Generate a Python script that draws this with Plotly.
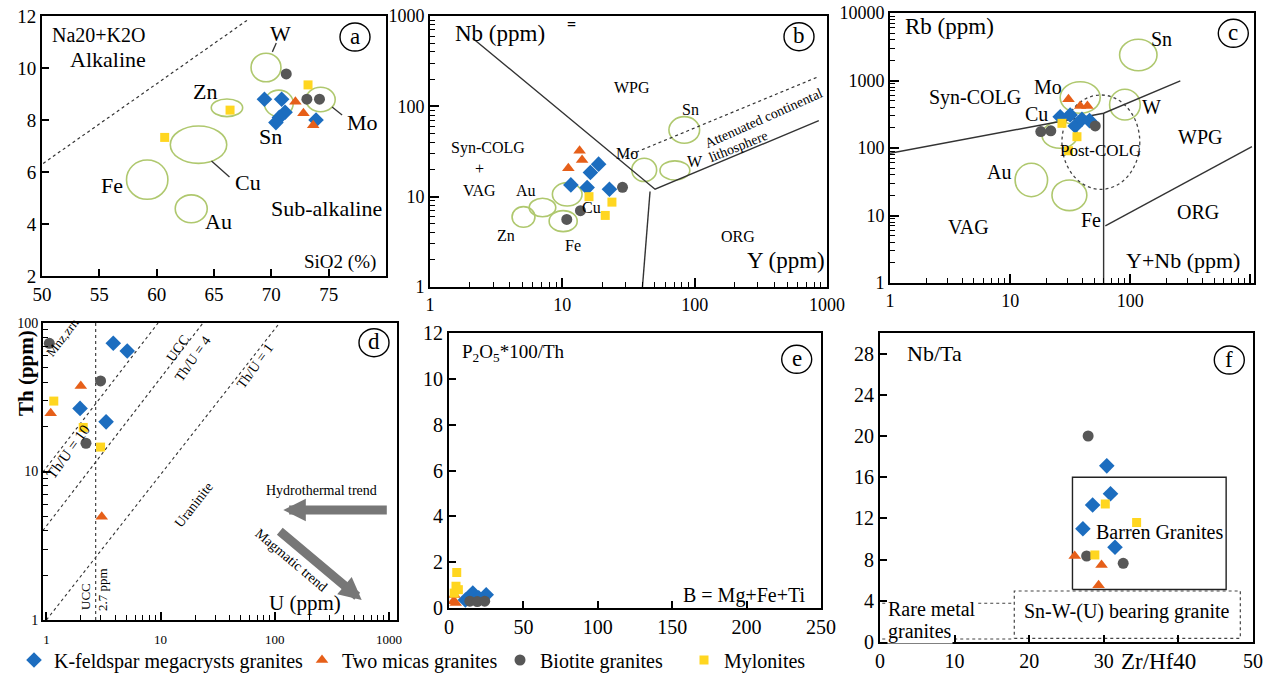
import plotly.graph_objects as go

W, H = 1265, 673
SERIF = "Liberation Serif, Times New Roman, serif"

C_KFS = "#1C6DBF"
C_MICA = "#E65F19"
C_BIO = "#575757"
C_MYL = "#FFD620"
C_ELL = "#AFC86E"
C_LINE = "#333333"

# ====================== DATA ======================
series_names = ["K-feldspar megacrysts granites", "Two micas granites",
                "Biotite granites", "Mylonites"]

# (a) SiO2 (%) vs Na2O+K2O
a_kfs_x = [69.4, 70.9, 71.2, 70.7, 70.4, 73.9]
a_kfs_y = [8.8, 8.8, 8.3, 8.1, 7.9, 8.0]
a_mica_x = [72.1, 72.8, 73.65]
a_mica_y = [8.7, 8.26, 7.8]
a_bio_x = [71.3, 73.1, 74.2]
a_bio_y = [9.77, 8.8, 8.8]
a_myl_x = [73.2, 66.4, 60.7]
a_myl_y = [9.35, 8.38, 7.33]
a_ell_names = ["W", "Sn", "Mo", "Zn", "Cu", "Fe", "Au"]
a_ell_x0 = [68.23, 69.39, 73.02, 64.76, 61.19, 57.37, 61.62]
a_ell_x1 = [70.84, 71.91, 75.57, 67.50, 66.11, 60.98, 64.41]
a_ell_y0 = [9.47, 8.13, 8.32, 8.13, 6.33, 4.95, 4.05]
a_ell_y1 = [10.57, 9.15, 9.26, 8.81, 7.77, 6.46, 5.12]
a_div_x = [50.1, 68.0]
a_div_y = [6.33, 11.87]
a_leader_x0 = [70.43, 64.78, 75.30]
a_leader_y0 = [10.96, 6.42, 8.50]
a_leader_x1 = [70.09, 66.35, 76.17]
a_leader_y1 = [10.62, 5.81, 8.19]

# (b) Y (ppm) vs Nb (ppm)
b_kfs_x = [18.8, 16.3, 11.6, 15.4, 22.7]
b_kfs_y = [22.9, 18.5, 13.5, 12.6, 12.1]
b_mica_x = [13.5, 14.1, 11.1]
b_mica_y = [32.3, 25.5, 20.6]
b_bio_x = [28.5, 13.7, 10.8]
b_bio_y = [12.7, 7.0, 5.6]
b_myl_x = [15.9, 23.7, 21.1]
b_myl_y = [10.0, 8.7, 6.2]
b_ell_names = ["Zn", "Au", "Cu", "Fe", "Mo", "W", "Sn"]
b_ell_x0 = [4.17, 5.62, 8.41, 7.95, 33.5, 54.7, 63.9]
b_ell_x1 = [6.21, 8.92, 14.1, 12.95, 51.6, 91.9, 109.0]
b_ell_y0 = [4.58, 6.0, 7.89, 4.1, 14.7, 15.3, 39.0]
b_ell_y1 = [7.75, 9.6, 14.3, 7.0, 26.6, 24.9, 76.9]
b_bound1_x = [2.1, 50.2, 867]
b_bound1_y = [568, 12.1, 69.5]
b_bound2_x = [46, 40.3]
b_bound2_y = [11.4, 1.0]
b_dash_x = [29.9, 842]
b_dash_y = [27.7, 210]

# (c) Y+Nb (ppm) vs Rb (ppm)
c_kfs_x = [26.1, 31.6, 34.8, 39.6, 45.8]
c_kfs_y = [291, 308, 212, 266, 254]
c_mica_x = [30.6, 38.3, 44.0]
c_mica_y = [526, 419, 419]
c_bio_x = [18.0, 21.8, 51.1]
c_bio_y = [175, 180, 212]
c_myl_x = [27.0, 36.0, 30.6]
c_myl_y = [232, 147, 91]
c_ell_names = ["Sn", "Mo", "W", "Cu", "Au", "Fe"]
c_ell_x0 = [81.5, 26.1, 67.3, 18.4, 11.0, 22.3]
c_ell_x1 = [167, 56.2, 121, 36.4, 20.5, 43.5]
c_ell_y0 = [1397, 327, 260, 99, 19.0, 11.8]
c_ell_y1 = [4074, 960, 741, 245, 59.3, 33.6]
c_post_x = [27.0, 120.0]
c_post_y = [24.4, 610.0]
c_bound1_x = [1.0, 60, 261]
c_bound1_y = [83.4, 327, 984]
c_bound2_x = [60, 60]
c_bound2_y = [327, 1.0]
c_bound3_x = [62, 1030]
c_bound3_y = [7.0, 104.5]

# (d) U (ppm) vs Th (ppm)
d_kfs_x = [3.85, 5.1, 1.97, 3.33]
d_kfs_y = [73, 64.8, 26.6, 21.6]
d_mica_x = [2.0, 1.09, 3.05]
d_mica_y = [37.7, 24.7, 4.96]
d_bio_x = [1.06, 2.98, 2.22]
d_bio_y = [73, 40.7, 15.5]
d_myl_x = [1.16, 2.1, 2.98]
d_myl_y = [29.8, 19.8, 14.6]
d_ucc_x = [2.7, 2.7]
d_ucc_y = [1, 100]
d_thu10_x = [0.93, 9.5]
d_thu10_y = [9.9, 100]
d_thu4_x = [0.93, 23.5]
d_thu4_y = [4.0, 100]
d_thu1_x = [1.0, 110]
d_thu1_y = [1.0, 100]

# (e) B = Mg+Fe+Ti vs P2O5*100/Th
e_kfs_x = [16, 25, 11, 20]
e_kfs_y = [0.65, 0.58, 0.35, 0.45]
e_mica_x = [3.6, 3.0, 4.5]
e_mica_y = [0.57, 0.3, 0.22]
e_bio_x = [14, 19, 24]
e_bio_y = [0.3, 0.28, 0.3]
e_myl_x = [5.2, 4.7, 6.3, 3.5]
e_myl_y = [1.55, 0.95, 0.8, 0.65]

# (f) Zr/Hf vs Nb/Ta
f_kfs_x = [30.4, 30.9, 28.5, 27.2, 31.5]
f_kfs_y = [17.1, 14.4, 13.3, 11.0, 9.2]
f_mica_x = [26.1, 29.7, 29.3]
f_mica_y = [8.35, 7.48, 5.5]
f_bio_x = [27.9, 27.7, 32.6]
f_bio_y = [20.0, 8.35, 7.64]
f_myl_x = [30.2, 34.4, 28.8]
f_myl_y = [13.4, 11.6, 8.45]
f_barren_x = [25.8, 46.4, 46.4, 25.8, 25.8]
f_barren_y = [5.1, 5.1, 16.0, 16.0, 5.1]
f_snw_x = [18.0, 48.3, 48.3, 18.0, 18.0]
f_snw_y = [0.36, 0.36, 4.95, 4.95, 0.36]
f_rare_top_x = [0.3, 18.0]
f_rare_top_y = [3.76, 3.76]
f_rare_bot_x = [0.3, 18.0]
f_rare_bot_y = [0.29, 0.29]

# ====================== FIGURE ======================
fig = go.Figure()

STY = [
    dict(symbol="diamond", color=C_KFS, size=12),
    dict(symbol="triangle-up", color=C_MICA, size=11),
    dict(symbol="circle", color=C_BIO, size=11),
    dict(symbol="square", color=C_MYL, size=9),
]
LEG = ["legend", "legend2", "legend3", "legend4"]


def add_groups(xs, ys, xa, ya, legend=False):
    for i, (x, y) in enumerate(zip(xs, ys)):
        fig.add_trace(go.Scatter(
            x=x, y=y, mode="markers", xaxis=xa, yaxis=ya,
            name=series_names[i], showlegend=legend, legend=LEG[i],
            marker=dict(symbol=STY[i]["symbol"], color=STY[i]["color"],
                        size=STY[i]["size"], line=dict(width=0)),
            hoverinfo="skip"))


def add_line(x, y, xa, ya, dash=None, width=1.4, color=C_LINE):
    fig.add_trace(go.Scatter(
        x=x, y=y, mode="lines", xaxis=xa, yaxis=ya, showlegend=False,
        line=dict(color=color, width=width, dash=dash), hoverinfo="skip"))


DASH = "3px,3px"

# lines
add_line(a_div_x, a_div_y, "x", "y", dash=DASH, width=1.2)
for x0, y0, x1, y1 in zip(a_leader_x0, a_leader_y0, a_leader_x1, a_leader_y1):
    add_line([x0, x1], [y0, y1], "x", "y", width=1.3)
add_line(b_bound1_x, b_bound1_y, "x2", "y2")
add_line(b_bound2_x, b_bound2_y, "x2", "y2")
add_line(b_dash_x, b_dash_y, "x2", "y2", dash=DASH, width=1.2)
add_line(c_bound1_x, c_bound1_y, "x3", "y3")
add_line(c_bound2_x, c_bound2_y, "x3", "y3")
add_line(c_bound3_x, c_bound3_y, "x3", "y3")
for lx, ly in [(d_ucc_x, d_ucc_y), (d_thu10_x, d_thu10_y),
               (d_thu4_x, d_thu4_y), (d_thu1_x, d_thu1_y)]:
    add_line(lx, ly, "x4", "y4", dash=DASH, width=1.1)
add_line(f_barren_x, f_barren_y, "x6", "y6", width=1.4, color="#222")
add_line(f_snw_x, f_snw_y, "x6", "y6", dash=DASH, width=1.2, color="#444")
add_line(f_rare_top_x, f_rare_top_y, "x6", "y6", dash=DASH, width=1.2, color="#444")
add_line(f_rare_bot_x, f_rare_bot_y, "x6", "y6", dash=DASH, width=1.2, color="#444")

# markers
add_groups([a_kfs_x, a_mica_x, a_bio_x, a_myl_x], [a_kfs_y, a_mica_y, a_bio_y, a_myl_y], "x", "y", legend=True)
add_groups([b_kfs_x, b_mica_x, b_bio_x, b_myl_x], [b_kfs_y, b_mica_y, b_bio_y, b_myl_y], "x2", "y2")
add_groups([c_kfs_x, c_mica_x, c_bio_x, c_myl_x], [c_kfs_y, c_mica_y, c_bio_y, c_myl_y], "x3", "y3")
add_groups([d_kfs_x, d_mica_x, d_bio_x, d_myl_x], [d_kfs_y, d_mica_y, d_bio_y, d_myl_y], "x4", "y4")
add_groups([e_kfs_x, e_mica_x, e_bio_x, e_myl_x], [e_kfs_y, e_mica_y, e_bio_y, e_myl_y], "x5", "y5")
add_groups([f_kfs_x, f_mica_x, f_bio_x, f_myl_x], [f_kfs_y, f_mica_y, f_bio_y, f_myl_y], "x6", "y6")

# ellipses (deposit fields)
shapes = []
for xa, ya, X0, X1, Y0, Y1 in [
        ("x", "y", a_ell_x0, a_ell_x1, a_ell_y0, a_ell_y1),
        ("x2", "y2", b_ell_x0, b_ell_x1, b_ell_y0, b_ell_y1),
        ("x3", "y3", c_ell_x0, c_ell_x1, c_ell_y0, c_ell_y1)]:
    for x0, x1, y0, y1 in zip(X0, X1, Y0, Y1):
        shapes.append(dict(type="circle", xref=xa, yref=ya, x0=x0, x1=x1, y0=y0, y1=y1,
                           line=dict(color=C_ELL, width=1.6), layer="below"))
shapes.append(dict(type="circle", xref="x3", yref="y3", x0=c_post_x[0], x1=c_post_x[1],
                   y0=c_post_y[0], y1=c_post_y[1],
                   line=dict(color="#444", width=1.3, dash="3px,3px"), layer="below"))


def px2p(px, py):
    return px / W, 1 - py / H


annotations = []
for (cx, cy, lab) in [(355, 37, "a"), (799, 36.7, "b"), (1233.3, 33.3, "c"),
                      (374, 342.7, "d"), (796.7, 359.3, "e"), (1229.3, 360, "f")]:
    x0, y0 = px2p(cx - 15, cy + 14)
    x1, y1 = px2p(cx + 15, cy - 14)
    shapes.append(dict(type="circle", xref="paper", yref="paper", x0=x0, x1=x1, y0=y0, y1=y1,
                       line=dict(color="black", width=1.4)))
    annotations.append(dict(x=cx / W, y=1 - (cy - 1) / H, xref="paper", yref="paper", text=lab,
                            showarrow=False, font=dict(family=SERIF, size=23, color="black"),
                            xanchor="center", yanchor="middle"))


def T(px, py, text, size, angle=0, xanchor="center", bold=False, bg=None, color="black"):
    t = f"<b>{text}</b>" if bold else text
    d = dict(x=px / W, y=1 - py / H, xref="paper", yref="paper", text=t, showarrow=False,
             font=dict(family=SERIF, size=size, color=color), xanchor=xanchor,
             yanchor="middle", textangle=angle)
    if bg:
        d.update(bgcolor=bg, borderpad=0)
    annotations.append(d)


# (a)
T(50, 35, "Na20+K2O", 20, xanchor="left")
T(108, 59, "Alkaline", 22)
T(280, 33, "W", 22)
T(205, 92, "Zn", 22)
T(270, 137, "Sn", 22)
T(362, 122, "Mo", 22)
T(248, 183, "Cu", 22)
T(112, 185, "Fe", 22)
T(218, 222, "Au", 22)
T(326, 208, "Sub-alkaline", 22)
T(340, 262, "SiO2 (%)", 19)
# (b)
T(453, 33, "Nb (ppm)", 23, xanchor="left")
T(571.7, 25, "=", 16, bold=True)
T(631.7, 88, "WPG", 16)
T(690, 110, "Sn", 16)
T(763, 118, "Attenuated continental", 14, angle=-24)
T(738, 146, "lithosphere", 14, angle=-22)
T(626.7, 153.3, "Mo", 16)
T(695, 161.7, "W", 16)
T(488.3, 148.3, "Syn-COLG", 16)
T(479.3, 168.3, "+", 16)
T(480, 190.7, "VAG", 16)
T(526, 190.7, "Au", 16)
T(506, 235, "Zn", 16)
T(591.7, 207.3, "Cu", 16)
T(573.3, 245, "Fe", 16)
T(738.3, 236.7, "ORG", 16)
T(785.8, 260, "Y (ppm)", 23)
# (c)
T(903, 26.7, "Rb (ppm)", 23, xanchor="left")
T(1161.7, 39.3, "Sn", 20)
T(1048.3, 87.3, "Mo", 20)
T(975, 97.3, "Syn-COLG", 20)
T(1151.7, 106.7, "W", 20)
T(1036.7, 114, "Cu", 20)
T(1200, 137.3, "WPG", 20)
T(1100, 150.7, "Post-COLG", 17)
T(999.3, 171.7, "Au", 20)
T(1090.7, 220, "Fe", 20)
T(1198.3, 211.7, "ORG", 20)
T(968.3, 226.7, "VAG", 20)
T(1183.3, 260, "Y+Nb (ppm)", 22)
# (d)
T(26, 373, "Th (ppm)", 21, angle=-90, bold=True)
T(62, 337, "Mnz,zrn", 13, angle=-52)
T(68, 452, "Th/U = 10", 15, angle=-54)
T(185, 353, "UCC<br>Th/U = 4", 14, angle=-55)
T(255, 367, "Th/U = 1", 14, angle=-54)
T(193, 505, "Uraninite", 14, angle=-52)
T(85, 597, "UCC", 13, angle=-90)
T(102, 590, "2.7 ppm", 13, angle=-90)
T(321.7, 490.7, "Hydrothermal trend", 14)
T(291.7, 560, "Magmatic trend", 14, angle=40)
T(305, 603, "U (ppm)", 21)
# (e)
T(460, 353, "P<sub>2</sub>O<sub>5</sub>*100/Th", 19, xanchor="left")
T(744, 595, "B = Mg+Fe+Ti", 20)
# (f)
T(905, 353, "Nb/Ta", 22, xanchor="left")
T(1159, 532, "Barren Granites", 20)
T(1126.7, 611.7, "Sn-W-(U) bearing granite", 20)
T(886.7, 609, "Rare metal", 20, xanchor="left", bg="white")
T(886.7, 631, "granites", 20, xanchor="left", bg="white")
T(1158, 661, "Zr/Hf40", 23)

# trend arrows (d)
annotations.append(dict(x=283.3 / W, y=1 - 510 / H, xref="paper", yref="paper", text="",
                        showarrow=True, ax=105, ay=0, axref="pixel", ayref="pixel",
                        arrowhead=2, arrowsize=0.5, arrowwidth=9, arrowcolor="#777777"))
annotations.append(dict(x=361.7 / W, y=1 - 600 / H, xref="paper", yref="paper", text="",
                        showarrow=True, ax=-83.4, ay=-70, axref="pixel", ayref="pixel",
                        arrowhead=2, arrowsize=0.5, arrowwidth=9, arrowcolor="#777777"))


def xdom(p0, p1):
    return [p0 / W, p1 / W]


def ydom(top, bot):
    return [1 - bot / H, 1 - top / H]


def axis(domain, anchor, size=18, **kw):
    d = dict(domain=domain, anchor=anchor, showline=True, linecolor="black", linewidth=2,
             mirror=True, ticks="inside", tickcolor="black", tickwidth=1.5, ticklen=7,
             showgrid=False, zeroline=False, fixedrange=True, automargin=False,
             tickfont=dict(family=SERIF, size=size, color="black"))
    d.update(kw)
    return d


MINOR = dict(ticks="inside", ticklen=5, tickwidth=1.1, tickcolor="black", showgrid=False, dtick="D1")

layout = dict(
    width=W, height=H, margin=dict(l=0, r=0, t=0, b=0, autoexpand=False),
    paper_bgcolor="white", plot_bgcolor="white",
    font=dict(family=SERIF, color="black"),
    shapes=shapes, annotations=annotations,
    xaxis=axis(xdom(42, 386), "y", 19, range=[50, 80], tickvals=[50, 55, 60, 65, 70, 75]),
    yaxis=axis(ydom(16, 276), "x", 19, range=[2, 12], dtick=2),
    xaxis2=axis(xdom(430, 827), "y2", 18, type="log", range=[0, 3], dtick=1,
                tickformat="d", minor=MINOR, ticklen=9),
    yaxis2=axis(ydom(16, 287), "x2", 18, type="log", range=[0, 3], dtick=1,
                tickformat="d", minor=MINOR, ticklen=9),
    xaxis3=axis(xdom(890, 1254), "y3", 18, type="log", range=[0, 3.03], dtick=1,
                tickformat="d", minor=MINOR, ticklen=9),
    yaxis3=axis(ydom(13, 283), "x3", 18, type="log", range=[0, 4], dtick=1,
                tickformat="d", minor=MINOR, ticklen=9),
    xaxis4=axis(xdom(43, 397), "y4", 13, type="log", range=[-0.03, 3.07], dtick=1,
                tickformat="d", minor=MINOR, ticklen=8, ticklabelstandoff=6),
    yaxis4=axis(ydom(323, 620), "x4", 14, type="log", range=[0, 2], dtick=1,
                tickformat="d", minor=MINOR, ticklen=8),
    xaxis5=axis(xdom(449, 821), "y5", 20, range=[0, 250], dtick=50),
    yaxis5=axis(ydom(333, 608), "x5", 20, range=[0, 12], dtick=2),
    xaxis6=axis(xdom(880, 1253), "y6", 20, range=[0, 50], tickvals=[0, 10, 20, 30, 40, 50],
                ticktext=["0", "10", "20", "30", "", "50"]),
    yaxis6=axis(ydom(333, 642), "x6", 20, range=[0, 30], tickvals=[0, 4, 8, 12, 16, 20, 24, 28]),
    showlegend=True,
)
leg_x = [14, 302, 500, 684]
for i, name in enumerate(LEG):
    layout[name] = dict(x=leg_x[i] / W, y=1 - 660 / H, xanchor="left", yanchor="middle",
                        orientation="h", bgcolor="rgba(0,0,0,0)", borderwidth=0,
                        font=dict(family=SERIF, size=20, color="black"))

fig.update_layout(**layout)
fig.write_html("out.html", config={"displayModeBar": False},
               post_script="document.body.style.margin='0px';document.body.style.padding='0px';")
